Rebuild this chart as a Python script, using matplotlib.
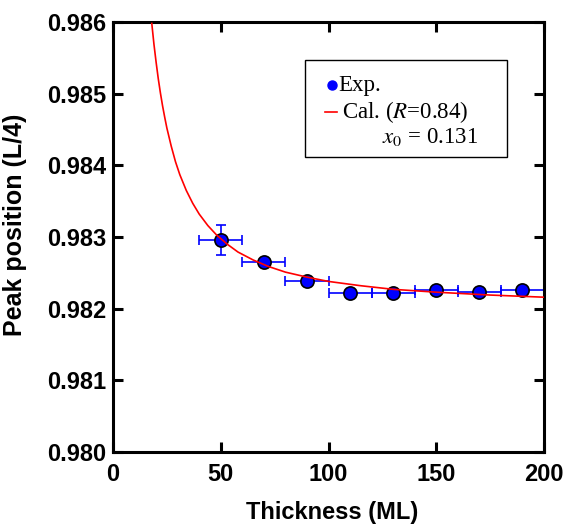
import matplotlib
matplotlib.use('Agg')
import matplotlib.pyplot as plt
from matplotlib.patches import Rectangle

plt.rcParams['mathtext.fontset'] = 'stix'

# experimental points
thick = [50, 70, 90, 110, 130, 150, 170, 190]
peak = [0.98296, 0.98265, 0.98239, 0.98222, 0.98222, 0.98226, 0.98223, 0.98226]
thick_err = [10, 10, 10, 10, 10, 10, 10, 10]
peak_err = [0.00021, 0.00004, 0.00002, 0.00002, 0.00002, 0.00002, 0.00002, 0.00002]

# calculated curve
cal_x = [18, 19, 20, 21, 22, 23, 24, 25, 27, 29, 31, 34, 37, 40, 44, 48, 53, 58,
         65, 72, 80, 90, 100, 115, 130, 150, 175, 200]
cal_y = [0.98598, 0.98569, 0.98544, 0.98521, 0.98501, 0.98483, 0.98467, 0.98452,
         0.98427, 0.98405, 0.98387, 0.98365, 0.98347, 0.98332, 0.98316, 0.98303,
         0.98290, 0.98279, 0.98268, 0.98259, 0.98251, 0.98244, 0.98238, 0.98232,
         0.98227, 0.98223, 0.98219, 0.98216]

fig = plt.figure(figsize=(5.69, 5.24), dpi=100)
ax = fig.add_axes([113/569, 1-452/524, 431/569, 430/524])

ax.errorbar(thick, peak, xerr=thick_err, yerr=peak_err, fmt='none',
            ecolor='#0000ff', elinewidth=1.2, capsize=3.8, capthick=1.2, zorder=2)
ax.plot(thick, peak, 'o', color='#0000ff', mec='black', mew=1.2, ms=9.5, zorder=3)
ax.plot(cal_x, cal_y, '-', color='red', lw=1.2, zorder=4)

ax.set_xlim(0, 200)
ax.set_ylim(0.980, 0.986)
ax.set_xticks([0, 50, 100, 150, 200])
ax.set_yticks([0.980, 0.981, 0.982, 0.983, 0.984, 0.985, 0.986])
ax.set_yticklabels(['0.980', '0.981', '0.982', '0.983', '0.984', '0.985', '0.986'])

for s in ax.spines.values():
    s.set_linewidth(2.2)
ax.tick_params(direction='in', length=7, width=2.2, top=True, right=True,
               labelsize=17, pad=5)
ax.tick_params(axis='x', pad=8)
for lab in ax.get_xticklabels() + ax.get_yticklabels():
    lab.set_fontfamily('Liberation Sans')
    lab.set_fontweight('bold')

ax.set_xlabel('Thickness (ML)', fontsize=17, fontweight='bold', family='Liberation Sans')
ax.set_ylabel('Peak position (L/4)', fontsize=18, fontweight='bold', family='Liberation Sans')
ax.xaxis.set_label_coords(0.509, -0.115)
ax.yaxis.set_label_coords(-0.2, 0.528)

# legend box drawn by hand
ax.add_patch(Rectangle((0.4455, 0.686), 0.4685, 0.2256, transform=ax.transAxes,
                       fill=False, ec='black', lw=1.0, zorder=5))
ax.plot([0.508], [0.853], 'o', color='#0000ff', ms=6.5, transform=ax.transAxes, zorder=6)
ax.plot([0.492, 0.520], [0.791, 0.791], '-', color='red', lw=1.2,
        transform=ax.transAxes, zorder=6)
lf = dict(transform=ax.transAxes, fontsize=16.5, family='Liberation Serif', va='center', zorder=6)
ax.text(0.522, 0.853, 'Exp.', **lf)
ax.text(0.532, 0.791, 'Cal. ($R$=0.84)', **lf)
ax.text(0.624, 0.733, '$x_0$ = 0.131', **lf)

fig.savefig('out.png', dpi=100)
